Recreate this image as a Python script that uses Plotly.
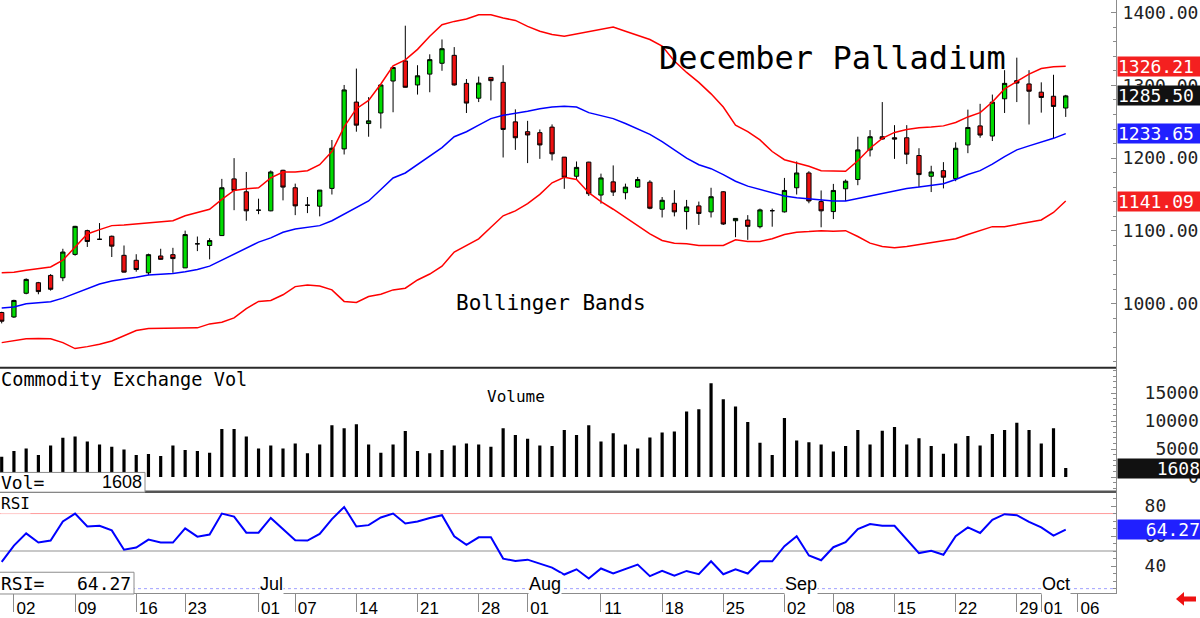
import plotly.graph_objects as go

# ---------------- data ----------------
bar_index = list(range(88))

opens = [988.0, 981.8, 1014.4, 1028.9, 1038.9, 1035.7, 1067.8, 1100.4, 1088.5, 1092.7, 1066.5, 1059.7, 1042.5, 1065.6, 1067.4,
         1049.3, 1082.3, 1080.0, 1093.6, 1171.5, 1153.8, 1128.5, 1127.6, 1183.3, 1159.3, 1135.3, 1134.0, 1158.4, 1212.7, 1277.0,
         1247.5, 1262.0, 1305.9, 1333.5, 1300.5, 1315.4, 1330.3, 1341.2, 1302.7, 1282.3, 1310.9, 1304.1, 1249.8, 1236.3, 1235.0,
         1242.6, 1201.4, 1175.1, 1194.5, 1149.3, 1167.4, 1152.5, 1160.2, 1167.0, 1129.8, 1138.0, 1126.6, 1134.4, 1126.2, 1153.8,
         1114.0, 1114.9, 1105.8, 1127.8, 1126.2, 1159.3, 1179.6, 1140.3, 1126.6, 1157.9, 1170.6, 1211.3, 1229.4, 1228.0, 1228.0,
         1203.6, 1175.1, 1182.8, 1171.9, 1218.1, 1244.3, 1230.3, 1281.5, 1306.4, 1301.9, 1290.6, 1285.0, 1268.8]
highs = [989.0, 1005.5, 1034.8, 1030.0, 1040.7, 1075.5, 1107.0, 1101.7, 1110.8, 1093.6, 1080.0, 1068.0, 1068.8, 1075.5, 1076.8,
         1100.4, 1092.3, 1090.0, 1171.5, 1200.0, 1181.0, 1144.3, 1183.0, 1184.0, 1165.0, 1146.6, 1156.1, 1224.9, 1300.5, 1323.0,
         1283.8, 1300.5, 1325.0, 1381.9, 1327.6, 1342.6, 1363.0, 1352.5, 1308.6, 1312.0, 1311.0, 1327.6, 1267.0, 1251.2, 1239.4,
         1246.3, 1201.5, 1195.4, 1195.0, 1178.7, 1190.0, 1165.0, 1174.2, 1169.6, 1146.6, 1156.0, 1142.6, 1140.3, 1159.3, 1154.7,
         1117.5, 1121.7, 1130.7, 1130.7, 1172.8, 1195.4, 1182.0, 1155.6, 1164.6, 1170.6, 1229.4, 1238.5, 1277.0, 1245.3, 1245.3,
         1213.6, 1189.5, 1194.5, 1221.7, 1266.6, 1274.6, 1287.3, 1320.8, 1338.0, 1320.8, 1304.1, 1314.5, 1286.9]
lows = [973.0, 980.5, 1013.0, 1013.0, 1018.0, 1031.0, 1066.0, 1078.0, 1088.0, 1064.2, 1043.0, 1044.0, 1039.3, 1060.5, 1042.5,
        1049.0, 1072.3, 1061.0, 1093.0, 1128.5, 1114.0, 1123.0, 1127.0, 1142.0, 1121.7, 1124.5, 1120.0, 1150.0, 1205.0, 1236.3,
        1229.4, 1240.7, 1263.0, 1297.0, 1287.3, 1290.5, 1320.0, 1299.6, 1262.0, 1277.0, 1279.2, 1200.9, 1211.3, 1193.2, 1199.0,
        1196.8, 1157.8, 1170.5, 1148.0, 1137.5, 1148.0, 1143.4, 1159.3, 1129.8, 1118.5, 1120.0, 1102.0, 1108.2, 1118.5, 1108.2,
        1091.4, 1087.8, 1103.5, 1105.8, 1125.3, 1150.0, 1138.0, 1105.0, 1116.3, 1141.2, 1162.8, 1202.3, 1225.5, 1199.0, 1191.8,
        1160.2, 1153.4, 1158.4, 1168.3, 1206.8, 1228.0, 1223.5, 1262.0, 1277.0, 1246.2, 1262.5, 1227.2, 1256.6]
closes = [976.0, 1004.5, 1033.4, 1016.7, 1019.9, 1071.0, 1106.3, 1085.5, 1088.5, 1079.1, 1043.4, 1047.0, 1067.4, 1061.0, 1062.0,
          1095.0, 1082.3, 1086.8, 1159.3, 1155.6, 1127.6, 1128.5, 1181.0, 1160.2, 1134.4, 1135.3, 1156.1, 1213.6, 1293.7, 1245.3,
          1251.2, 1300.5, 1324.5, 1297.3, 1313.1, 1335.3, 1350.3, 1300.5, 1275.6, 1303.1, 1306.4, 1239.4, 1228.0, 1231.8, 1218.1,
          1205.9, 1173.7, 1187.3, 1151.1, 1172.8, 1153.4, 1160.2, 1170.6, 1131.2, 1142.1, 1126.2, 1133.0, 1124.0, 1147.0, 1109.5,
          1117.2, 1106.3, 1128.9, 1127.8, 1155.6, 1179.6, 1141.2, 1127.6, 1155.6, 1168.3, 1211.3, 1229.4, 1226.2, 1226.2, 1205.4,
          1177.4, 1181.0, 1173.8, 1213.6, 1242.1, 1231.7, 1276.9, 1302.7, 1303.1, 1291.9, 1283.3, 1271.0, 1285.5]

bb_upper = [1042.5, 1043.4, 1046.1, 1048.4, 1050.6, 1059.7, 1077.8, 1095.9, 1101.8, 1107.3, 1108.2, 1109.5, 1110.8, 1112.2, 1114.0,
            1120.8, 1125.3, 1129.8, 1143.4, 1155.6, 1157.9, 1159.3, 1172.8, 1181.0, 1181.0, 1182.8, 1191.0, 1209.1, 1243.0, 1267.9,
            1279.2, 1301.8, 1326.7, 1334.9, 1349.4, 1367.5, 1383.3, 1387.8, 1391.0, 1396.9, 1396.9, 1392.4, 1389.2, 1381.0, 1374.2,
            1369.7, 1367.5, 1370.6, 1374.2, 1376.5, 1380.1, 1374.2, 1368.4, 1362.9, 1353.9, 1333.5, 1317.7, 1304.1, 1288.3, 1270.2,
            1245.3, 1236.3, 1225.0, 1209.1, 1197.8, 1193.3, 1188.8, 1182.8, 1181.9, 1181.9, 1196.4, 1213.6, 1227.2, 1235.3, 1239.4,
            1241.7, 1242.6, 1244.3, 1248.9, 1256.6, 1262.5, 1277.0, 1295.1, 1305.0, 1315.4, 1323.1, 1325.4, 1326.21]
bb_middle = [994.1, 995.4, 1000.0, 1001.8, 1002.7, 1007.7, 1014.5, 1021.3, 1027.2, 1031.3, 1033.5, 1036.3, 1039.4, 1040.3, 1041.7,
             1043.9, 1047.0, 1051.6, 1059.7, 1068.7, 1076.4, 1084.6, 1090.5, 1098.2, 1102.7, 1105.0, 1107.3, 1114.0, 1123.0, 1131.2,
             1141.2, 1157.0, 1172.8, 1179.6, 1190.9, 1202.2, 1214.5, 1229.4, 1236.3, 1245.3, 1254.3, 1258.8, 1261.1, 1264.3, 1267.9,
             1270.2, 1271.1, 1270.2, 1262.5, 1258.8, 1254.3, 1247.5, 1239.9, 1232.6, 1222.6, 1211.3, 1200.0, 1190.9, 1185.5, 1177.4,
             1168.3, 1161.5, 1156.9, 1152.5, 1147.9, 1145.7, 1144.3, 1142.1, 1141.2, 1141.2, 1144.8, 1147.9, 1151.1, 1155.6, 1158.4,
             1160.2, 1162.5, 1164.7, 1170.6, 1177.4, 1182.8, 1191.8, 1202.2, 1211.3, 1216.8, 1221.7, 1227.2, 1233.65]
bb_lower = [946.6, 948.8, 952.0, 952.4, 952.0, 946.6, 938.4, 941.1, 944.3, 948.8, 955.6, 963.3, 966.0, 966.0, 966.0,
            966.0, 966.9, 972.3, 974.6, 980.5, 993.2, 1003.2, 1004.5, 1012.3, 1023.5, 1025.8, 1024.4, 1019.0, 1003.2, 1001.8,
            1009.9, 1013.1, 1019.0, 1021.3, 1032.6, 1040.8, 1051.6, 1071.1, 1080.1, 1089.2, 1105.0, 1120.8, 1127.6, 1137.5, 1150.2,
            1166.1, 1173.7, 1170.6, 1152.5, 1140.3, 1129.8, 1118.5, 1107.2, 1095.9, 1086.9, 1083.2, 1082.3, 1080.1, 1080.1, 1080.1,
            1087.8, 1085.5, 1085.5, 1089.2, 1095.0, 1098.2, 1099.1, 1100.4, 1099.5, 1100.4, 1092.3, 1083.2, 1078.7, 1076.9, 1078.7,
            1081.4, 1083.6, 1086.9, 1089.2, 1095.0, 1100.4, 1105.9, 1105.9, 1108.6, 1111.8, 1115.0, 1125.3, 1141.09]

volume = [3650, 4650, 5120, 3950, 5650, 7010, 7250, 6360, 5830, 5420, 4950, 3950, 4120, 3770, 5650,
          4830, 4650, 4360, 8600, 8600, 7250, 5120, 5650, 5120, 6010, 4240, 5830, 9250, 8720, 9420,
          5830, 4360, 5830, 8250, 4650, 4240, 4830, 5650, 6010, 5830, 5420, 8720, 7540, 6830, 5650,
          5540, 8420, 7540, 9250, 6360, 7830, 5830, 5120, 7070, 7950, 8130, 11720, 12130, 16790, 13900,
          12600, 9840, 6130, 3950, 10540, 6540, 6240, 5830, 4590, 5540, 8420, 5830, 8300, 8950, 5830,
          6950, 5540, 4180, 6010, 7360, 5650, 7720, 8420, 9720, 8420, 6010, 8720, 1608]

rsi = [42.8, 53.7, 61.8, 55.7, 57.0, 69.7, 75.0, 66.4, 66.9, 63.8, 50.9, 52.4, 57.7, 55.7, 55.7,
       65.1, 59.6, 61.0, 75.0, 73.0, 62.3, 62.3, 72.1, 64.7, 57.2, 57.0, 61.4, 71.3, 79.4, 66.4,
       67.3, 72.4, 75.0, 68.4, 69.7, 72.1, 73.9, 59.9, 54.2, 59.2, 59.2, 45.0, 43.4, 44.3, 41.9,
       39.0, 34.4, 37.9, 31.8, 38.4, 35.1, 37.9, 41.0, 33.3, 36.8, 33.6, 36.8, 34.6, 43.2, 34.6,
       37.9, 35.1, 43.2, 43.2, 53.3, 59.9, 47.1, 43.9, 52.6, 55.9, 64.7, 68.0, 66.9, 66.9, 58.1,
       48.7, 50.2, 47.6, 59.9, 65.8, 62.1, 70.8, 74.6, 73.9, 69.5, 65.8, 60.3, 64.27]

date_tick_bars = [1, 6, 11, 15, 21, 24, 29, 34, 39, 43, 49, 54, 59, 64, 68, 73, 78, 83, 85, 88]
date_tick_text = ["02", "09", "16", "23", "01", "07", "14", "21", "28", "01", "11", "18", "25", "02", "08", "15", "22", "29", "01", "06"]
month_bars = [21, 43, 64, 85]
month_text = ["Jul", "Aug", "Sep", "Oct"]

price_ticks = [1000, 1100, 1200, 1300, 1400]
price_tick_text = ["1000.00", "1100.00", "1200.00", "1300.00", "1400.00"]
vol_ticks = [0, 5000, 10000, 15000]
vol_tick_text = ["\u00a0\u00a0\u00a0\u00a00", "\u00a05000", "10000", "15000"]
rsi_ticks = [40, 60, 80]
rsi_tick_text = ["40", "60", "80"]

last_upper = "1326.21"
last_close = "1285.50"
last_middle = "1233.65"
last_lower = "1141.09"
last_volume = "1608"
last_rsi = "64.27"

# ---------------- layout helpers ----------------
W_PLOT, H_PLOT = 1116, 600
def xp(px):
    return px / W_PLOT
def yp(py):
    return (H_PLOT - py) / H_PLOT

MONO = "DejaVu Sans Mono"
SANS = "Liberation Sans, Arial"
GREEN = "#00dc00"
RED = "#ee1111"

fig = go.Figure()
fig.add_trace(go.Candlestick(
    x=bar_index, open=opens, high=highs, low=lows, close=closes,
    xaxis="x", yaxis="y", whiskerwidth=0,
    increasing=dict(line=dict(color="black", width=1), fillcolor=GREEN),
    decreasing=dict(line=dict(color="black", width=1), fillcolor=RED),
    hoverinfo="skip", showlegend=False))
for series, col in [(bb_upper, "#ff0000"), (bb_middle, "#0000ff"), (bb_lower, "#ff0000")]:
    fig.add_trace(go.Scatter(x=bar_index, y=series, mode="lines", xaxis="x", yaxis="y",
                             line=dict(color=col, width=1.5), hoverinfo="skip", showlegend=False))
fig.add_trace(go.Bar(x=bar_index, y=volume, xaxis="x", yaxis="y2", width=0.26,
                     marker=dict(color="black", line=dict(width=0)), hoverinfo="skip", showlegend=False))
fig.add_trace(go.Scatter(x=bar_index, y=rsi, mode="lines", xaxis="x", yaxis="y3",
                         line=dict(color="#0000ff", width=2), hoverinfo="skip", showlegend=False))

axis_common = dict(side="right", anchor="x", showgrid=False, zeroline=False, showline=True,
                   linecolor="#8c8c8c", linewidth=1, ticks="inside", ticklen=5, tickcolor="#8c8c8c",
                   tickmode="array", fixedrange=True)

fig.update_layout(
    width=1200, height=618, margin=dict(l=0, r=84, t=0, b=18),
    paper_bgcolor="white", plot_bgcolor="white", showlegend=False, boxgap=0.5,
    xaxis=dict(domain=[0, 1], anchor="y3", range=[-0.139, 91.11], rangeslider=dict(visible=False),
               showgrid=False, zeroline=False, showline=True, linecolor="#8c8c8c", linewidth=1,
               tickmode="array", tickvals=date_tick_bars, ticktext=date_tick_text,
               ticks="outside", ticklen=18, tickwidth=1, tickcolor="#8c8c8c", tickangle=0,
               ticklabelstandoff=-18, ticklabelshift=12,
               tickfont=dict(family=SANS, size=17, color="black")),
    yaxis=dict(domain=[yp(372), 1], range=[912.2, 1417.2], tickvals=price_ticks, ticktext=price_tick_text,
               tickfont=dict(family=MONO, size=18, color="#222"), ticklabelstandoff=2,
               minor=dict(ticks="inside", ticklen=3, tickcolor="#8c8c8c", dtick=20, tick0=0), **axis_common),
    yaxis2=dict(domain=[yp(497), yp(372)], range=[-2527, 19558], tickvals=vol_ticks, ticktext=vol_tick_text,
                tickfont=dict(family=MONO, size=18, color="#222"), ticklabelstandoff=24,
                minor=dict(ticks="inside", ticklen=3, tickcolor="#8c8c8c", dtick=1000, tick0=0), **axis_common),
    yaxis3=dict(domain=[0, yp(497)], range=[22.1, 89.9], tickvals=rsi_ticks, ticktext=rsi_tick_text,
                tickfont=dict(family=MONO, size=18, color="#222"), ticklabelstandoff=24,
                minor=dict(ticks="inside", ticklen=3, tickcolor="#8c8c8c", dtick=5, tick0=0), **axis_common),
)

shapes = [
    # RSI reference levels
    dict(type="line", xref="paper", yref="y3", x0=0, x1=1, y0=75, y1=75, line=dict(color="#ff9a9a", width=1), layer="below"),
    dict(type="line", xref="paper", yref="y3", x0=0, x1=1, y0=50, y1=50, line=dict(color="#c8c8c8", width=2), layer="below"),
    dict(type="line", xref="paper", yref="y3", x0=0, x1=1, y0=25, y1=25, line=dict(color="#a0a0ff", width=1, dash="dot"), layer="below"),
    # panel separators
    dict(type="line", xref="paper", yref="paper", x0=0, x1=1, y0=yp(372), y1=yp(372), line=dict(color="#2a2a2a", width=2)),
    dict(type="line", xref="paper", yref="paper", x0=0, x1=1, y0=yp(497.5), y1=yp(497.5), line=dict(color="#555555", width=2.5)),
    # readout boxes
    dict(type="rect", xref="paper", yref="paper", x0=xp(-3), x1=xp(145), y0=yp(498), y1=yp(478),
         fillcolor="white", line=dict(color="#8c8c8c", width=1)),
    dict(type="rect", xref="paper", yref="paper", x0=xp(-3), x1=xp(134), y0=yp(601), y1=yp(579),
         fillcolor="white", line=dict(color="#8c8c8c", width=1)),
]
# small red arrow at bottom right
arrow_pts = [(1176, 606), (1184, 599), (1184, 603.5), (1196, 603.5), (1196, 608.5), (1184, 608.5), (1184, 613)]
path = "M " + " L ".join(f"{xp(a):.5f},{yp(b):.5f}" for a, b in arrow_pts) + " Z"
shapes.append(dict(type="path", xref="paper", yref="paper", path=path, fillcolor="#ee1111", line=dict(width=0)))
fig.update_layout(shapes=shapes)

ann = []
def text(x, y, s, size, font=MONO, xanchor="left", bg=None, color="black", xref="paper", xshift=0):
    d = dict(x=x, y=y, xref=xref, yref="paper", text=s, showarrow=False, xanchor=xanchor, yanchor="middle",
             font=dict(family=font, size=size, color=color), borderpad=0, xshift=xshift)
    if bg:
        d["bgcolor"] = bg
    ann.append(d)

text(xp(658), yp(59), "December Palladium", 32)
text(xp(455), yp(307), "Bollinger Bands", 21)
text(xp(0), yp(384), "Commodity Exchange Vol", 18.6)
text(xp(486), yp(401), "Volume", 16)
text(xp(0), yp(509), "RSI", 16, bg="white")
text(xp(0), yp(488), "Vol=", 18)
text(xp(143), yp(488), last_volume, 18, font=SANS, xanchor="right")
text(xp(0), yp(590), "RSI=", 18)
text(xp(132), yp(590), last_rsi, 18, xanchor="right")
for b, m in zip(month_bars, month_text):
    text(b, yp(591), m, 18, font=SANS, bg="white", xref="x", xshift=0)

def value_box(y, yref, s, bg, align="left"):
    ann.append(dict(x=1, xref="paper", y=y, yref=yref, text=s, showarrow=False, xanchor="left", yanchor="middle",
                    xshift=1, width=82, height=19, align=align, bgcolor=bg, borderpad=0,
                    font=dict(family=MONO, size=18, color="white")))

value_box(float(last_upper), "y", last_upper, "#f42020")
value_box(float(last_close), "y", last_close, "#111111")
value_box(float(last_middle), "y", last_middle, "#2020ff")
value_box(float(last_lower), "y", last_lower, "#f42020")
value_box(float(last_volume), "y2", last_volume, "#111111", align="right")
value_box(float(last_rsi), "y3", last_rsi, "#2020ff", align="right")

fig.update_layout(annotations=ann)
fig.write_html("out.html")
